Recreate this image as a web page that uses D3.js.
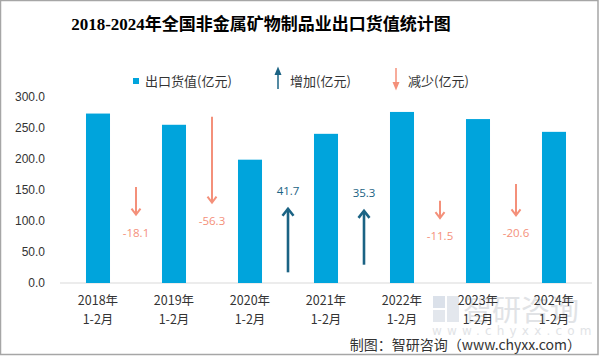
<!DOCTYPE html>
<html><head><meta charset="utf-8">
<script src="https://cdn.jsdelivr.net/npm/d3@7"></script>
<style>
html,body{margin:0;padding:0;background:#fff;}
svg{display:block;}
</style></head>
<body>
<script>
// ---- data ----
const categories = ["2018年\n1-2月","2019年\n1-2月","2020年\n1-2月","2021年\n1-2月","2022年\n1-2月","2023年\n1-2月","2024年\n1-2月"];
const exportValues = [273.3, 255.2, 198.9, 240.6, 275.9, 264.4, 243.8];
const changeValues = [null, -18.1, -56.3, 41.7, 35.3, -11.5, -20.6];
// helper series on hidden secondary axis: level where each arrow starts
const arrowStart = [null, 63, 109, 7, 12, 54, 65];
const yTicks = [0, 50, 100, 150, 200, 250, 300];
const title = "2018-2024年全国非金属矿物制品业出口货值统计图";
const legendLabels = ["出口货值(亿元)", "增加(亿元)", "减少(亿元)"];
const sourceText = "制图：智研咨询（www.chyxx.com）";

const W = 601, H = 356;
const BLUE = "#00a4dc", UP = "#1b6384", DOWN = "#f4907a", TXT = "#333333";
const CJK = "'Noto Sans CJK SC','Noto Sans',sans-serif";
const fmt = v => d3.format(".1f")(v).replace("\u2212", "-");

const svg = d3.select("body").append("svg").attr("width", W).attr("height", H);

// border
svg.append("rect").attr("x", 0.5).attr("y", 0.5).attr("width", 597.5).attr("height", 354)
  .attr("fill", "#fff").attr("stroke", "#a6a6a6").attr("stroke-width", 1.5);

// title
svg.append("text").attr("x", 261).attr("y", 30).attr("text-anchor", "middle")
  .attr("font-family", "'Liberation Serif','Noto Sans CJK SC',serif").attr("font-weight", "bold")
  .attr("font-size", 17).attr("fill", "#000").text(title);

// scales
const x = d3.scaleBand().domain(categories).range([60, 592]).paddingInner(0.684).paddingOuter(0.342);
const y = d3.scaleLinear().domain([0, 300]).range([283, 97]);
const y2 = d3.scaleLinear().domain([0, 122]).range([283, 97]);
const xb = d3.scaleBand().domain(categories).range([60, 592]);

// y axis labels
const yAxis = d3.axisLeft(y).tickValues(yTicks).tickFormat(d3.format(".1f")).tickSize(0).tickPadding(0);
const gy = svg.append("g").attr("transform", "translate(45,0)").call(yAxis);
gy.select(".domain").remove();
gy.selectAll("text").attr("font-family", "'Liberation Sans',Arial,sans-serif").attr("font-size", 12).attr("fill", TXT).attr("dy", "0.3em");

// baseline
svg.append("line").attr("x1", 60).attr("x2", 592).attr("y1", y(0)).attr("y2", y(0))
  .attr("stroke", "#d9d9d9").attr("stroke-width", 1);

// bars
svg.append("g").selectAll("rect").data(exportValues).join("rect")
  .attr("x", (d, i) => x(categories[i])).attr("width", x.bandwidth())
  .attr("y", d => y(d)).attr("height", d => y(0) - y(d)).attr("fill", BLUE);

// watermark (behind labels)
const wm = svg.append("g").attr("opacity", 0.5);
wm.append("rect").attr("x", 433).attr("y", 296).attr("width", 12).attr("height", 12).attr("fill", "#b8c4d6");
wm.append("rect").attr("x", 447).attr("y", 296).attr("width", 12).attr("height", 26).attr("fill", "#c8d0dc");
wm.append("rect").attr("x", 433).attr("y", 310).attr("width", 12).attr("height", 12).attr("fill", "#c8d0dc");
wm.append("text").attr("x", 463).attr("y", 321).attr("font-family", CJK).attr("font-size", 29)
  .attr("fill", "#c4c8ce").text("智研咨询");
wm.append("text").attr("x", 432).attr("y", 335).attr("font-family", "'DejaVu Sans',sans-serif").attr("font-size", 12)
  .attr("letter-spacing", 5.2).attr("fill", "#c4c8ce").text("www.chyxx.com");

// x labels
const gx = svg.append("g");
categories.forEach(c => {
  const cx = xb(c) + xb.bandwidth() / 2;
  const parts = c.split("\n");
  const t = gx.append("text").attr("text-anchor", "middle").attr("font-family", CJK)
    .attr("font-size", 12.5).attr("fill", TXT);
  t.append("tspan").attr("x", cx).attr("y", 305).text(parts[0]);
  t.append("tspan").attr("x", cx).attr("y", 324).text(parts[1]);
});

// arrows
const ga = svg.append("g");
changeValues.forEach((v, i) => {
  if (v == null) return;
  const ax = xb(categories[i]);
  const from = arrowStart[i], to = arrowStart[i] + v;
  const y1 = y2(from), yEnd = y2(to);
  const col = v > 0 ? UP : DOWN;
  const sw = v > 0 ? 2.6 : 2;
  const dir = v > 0 ? 1 : -1;
  ga.append("line").attr("x1", ax).attr("x2", ax).attr("y1", y1).attr("y2", yEnd)
    .attr("stroke", col).attr("stroke-width", sw);
  const hw = v > 0 ? 5.5 : 4.5, hh = v > 0 ? 7 : 6;
  ga.append("path")
    .attr("d", `M${ax - hw},${yEnd + dir * hh} L${ax},${yEnd} L${ax + hw},${yEnd + dir * hh}`)
    .attr("fill", "none").attr("stroke", col).attr("stroke-width", sw);
  ga.append("text").attr("x", ax).attr("y", yEnd - dir * 18).attr("dy", "0.35em")
    .attr("text-anchor", "middle").attr("font-family", "'Open Sans','Noto Sans',sans-serif")
    .attr("font-size", 11.5).attr("fill", col).text(fmt(v));
});

// legend
const lg = svg.append("g").attr("font-family", CJK).attr("font-size", 13).attr("fill", TXT);
lg.append("rect").attr("x", 133).attr("y", 78).attr("width", 6).attr("height", 6).attr("fill", BLUE);
lg.append("text").attr("x", 145).attr("y", 81).attr("dy", "0.35em").text(legendLabels[0]);
lg.append("line").attr("x1", 278).attr("x2", 278).attr("y1", 89).attr("y2", 72).attr("stroke", UP).attr("stroke-width", 1.5);
lg.append("path").attr("d", "M274.5,75 L278,66.5 L281.5,75 Z").attr("fill", UP);
lg.append("text").attr("x", 290).attr("y", 81).attr("dy", "0.35em").text(legendLabels[1]);
lg.append("line").attr("x1", 396).attr("x2", 396).attr("y1", 68).attr("y2", 85).attr("stroke", DOWN).attr("stroke-width", 1.5);
lg.append("path").attr("d", "M392.5,82 L396,90.5 L399.5,82 Z").attr("fill", DOWN);
lg.append("text").attr("x", 408).attr("y", 81).attr("dy", "0.35em").text(legendLabels[2]);

// source
svg.append("text").attr("x", 581).attr("y", 345).attr("dy", "0.35em").attr("text-anchor", "end")
  .attr("font-family", CJK).attr("font-size", 14).attr("fill", TXT).text(sourceText);
</script>
</body></html>
